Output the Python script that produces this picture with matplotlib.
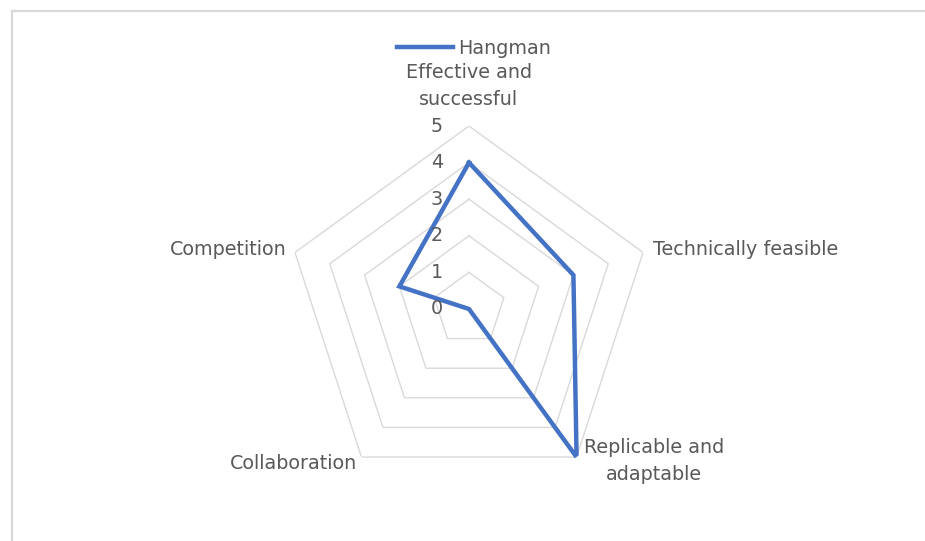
import numpy as np
import matplotlib
matplotlib.use('Agg')
import matplotlib.pyplot as plt
from matplotlib.lines import Line2D

# Data
categories = ['Effective and\nsuccessful', 'Technically feasible', 'Replicable and\nadaptable',
              'Collaboration', 'Competition']
hangman = [4, 3, 5, 0, 2]
ring_levels = [1, 2, 3, 4, 5]
tick_labels = ['0', '1', '2', '3', '4', '5']

LINE_COLOR = '#4472C4'
GRID_COLOR = '#D9D9D9'
TEXT_COLOR = '#595959'
FONT = 'DejaVu Sans'
FS = 13.8

plt.rcParams['font.family'] = [FONT]

W, H = 925, 541
fig = plt.figure(figsize=(W / 100, H / 100), dpi=100)

# light chart border (top and left visible, runs off the right/bottom)
fig.add_artist(Line2D([12 / W, 1.0], [1 - 11 / H, 1 - 11 / H], transform=fig.transFigure,
                      color=GRID_COLOR, lw=1.6))
fig.add_artist(Line2D([12 / W, 12 / W], [0.0, 1 - 11 / H], transform=fig.transFigure,
                      color=GRID_COLOR, lw=1.6))

# polar axes: centre at (469, 309) px, radius 183 px
cx, cy, R = 469, 309, 183
ax = fig.add_axes([(cx - R) / W, (H - cy - R) / H, 2 * R / W, 2 * R / H], projection='polar')
ax.set_theta_offset(np.pi / 2)
ax.set_theta_direction(-1)
ax.set_ylim(0, 5)
ax.set_xticks([])
ax.set_yticks([])
ax.grid(False)
ax.spines['polar'].set_visible(False)
ax.patch.set_alpha(0)

n = len(categories)
theta = np.linspace(0, 2 * np.pi, n, endpoint=False)
theta_closed = np.append(theta, theta[0])

# pentagon rings
for lvl in ring_levels:
    ax.plot(theta_closed, [lvl] * (n + 1), color=GRID_COLOR, lw=1.0, zorder=1)

# data line
vals = np.append(hangman, hangman[0])
ax.plot(theta_closed, vals, color=LINE_COLOR, lw=3.2, zorder=3, solid_joinstyle='miter',
        label='Hangman')

# radial tick labels on the top spoke
for i, t in enumerate(tick_labels):
    ax.annotate(t, xy=(0, i), xytext=(-23, 0), textcoords='offset points',
                ha='center', va='center', fontsize=FS, color=TEXT_COLOR, zorder=4)

# category labels
label_pos = [
    ((0, 12), 'center', 'bottom', 'center'),
    ((7, 2), 'left', 'center', 'left'),
    ((5, 14), 'left', 'top', 'center'),
    ((-3, -5), 'right', 'center', 'right'),
    ((-6, 2), 'right', 'center', 'right'),
]
for th, name, (off, ha, va, ma) in zip(theta, categories, label_pos):
    ax.annotate(name, xy=(th, 5), xytext=off, textcoords='offset points',
                ha=ha, va=va, multialignment=ma, fontsize=FS, color=TEXT_COLOR,
                linespacing=1.55, annotation_clip=False)

# legend at top
fig.legend(handles=[Line2D([0], [0], color=LINE_COLOR, lw=3.2)], labels=['Hangman'],
           loc='center', bbox_to_anchor=(474 / W, 1 - 48 / H), frameon=False,
           fontsize=FS, labelcolor=TEXT_COLOR, handlelength=2.9, handletextpad=0.25)

fig.savefig('out.png', dpi=100)
